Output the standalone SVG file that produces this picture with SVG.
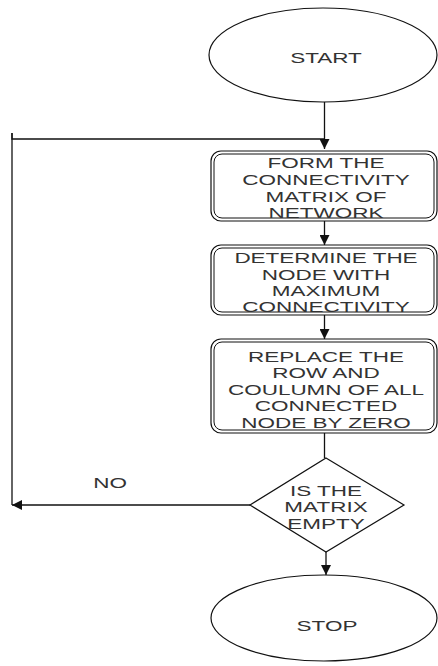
<svg xmlns="http://www.w3.org/2000/svg" width="438" height="666" viewBox="0 0 438 666">
<style>
.sh{fill:#fff;stroke:#111;stroke-width:1.2}
.in{fill:none;stroke:#111;stroke-width:1}
.t{font-family:"Liberation Sans",Arial,sans-serif;font-size:15px;fill:#333;text-anchor:middle}
.c{fill:none;stroke:#111;stroke-width:1.3}
</style>
<defs>
<marker id="ah" viewBox="0 0 10 10" refX="10" refY="5" markerWidth="10" markerHeight="10" markerUnits="userSpaceOnUse" orient="auto">
<path d="M0,0 L10,5 L0,10 z" fill="#111"/>
</marker>
</defs>
<rect width="438" height="666" fill="#fff"/>
<g id="connectors">
<path class="c" d="M324.5,102 V149" marker-end="url(#ah)"/>
<path class="c" d="M12,133 V139 H324.5"/>
<path class="c" d="M324.5,221 V245" marker-end="url(#ah)"/>
<path class="c" d="M324.5,315 V339" marker-end="url(#ah)"/>
<path class="c" d="M324.5,433 V458"/>
<path class="c" d="M250,505 H12" marker-end="url(#ah)"/>
<path class="c" d="M12,505 V133"/>
<path class="c" d="M326,552 V575" marker-end="url(#ah)"/>
<g transform="translate(110,0) scale(1.5,1)"><text class="t" x="0" y="488">NO</text></g>
</g>
<g id="start">
<ellipse class="sh" cx="323" cy="55" rx="114" ry="47"/>
<g transform="translate(326,0) scale(1.5,1)"><text class="t" x="0" y="63">START</text></g>
</g>
<g id="box1">
<rect class="sh" x="211" y="151" width="226" height="70" rx="10"/>
<rect class="in" x="214" y="154" width="220" height="64" rx="8"/>
<g transform="translate(326,0) scale(1.5,1)">
<text class="t" x="0" y="168">FORM THE</text>
<text class="t" x="0" y="185">CONNECTIVITY</text>
<text class="t" x="0" y="202">MATRIX OF</text>
<text class="t" x="0" y="218">NETWORK</text>
</g>
</g>
<g id="box2">
<rect class="sh" x="211" y="245" width="226" height="70" rx="10"/>
<rect class="in" x="214" y="248" width="220" height="64" rx="8"/>
<g transform="translate(326,0) scale(1.5,1)">
<text class="t" x="0" y="263">DETERMINE THE</text>
<text class="t" x="0" y="280">NODE WITH</text>
<text class="t" x="0" y="296">MAXIMUM</text>
<text class="t" x="0" y="312">CONNECTIVITY</text>
</g>
</g>
<g id="box3">
<rect class="sh" x="211" y="339" width="226" height="94" rx="10"/>
<rect class="in" x="214" y="342" width="220" height="88" rx="8"/>
<g transform="translate(326,0) scale(1.5,1)">
<text class="t" x="0" y="362">REPLACE THE</text>
<text class="t" x="0" y="378.5">ROW AND</text>
<text class="t" x="0" y="395">COULUMN OF ALL</text>
<text class="t" x="0" y="411.5">CONNECTED</text>
<text class="t" x="0" y="428">NODE BY ZERO</text>
</g>
</g>
<g id="decision">
<polygon class="sh" points="326,458 404,505 326,552 250,505"/>
<g transform="translate(326,0) scale(1.5,1)">
<text class="t" x="0" y="496">IS THE</text>
<text class="t" x="0" y="512.5">MATRIX</text>
<text class="t" x="0" y="529">EMPTY</text>
</g>
</g>
<g id="stop">
<ellipse class="sh" cx="324" cy="618" rx="113" ry="43"/>
<g transform="translate(327,0) scale(1.5,1)"><text class="t" x="0" y="631">STOP</text></g>
</g>
</svg>
